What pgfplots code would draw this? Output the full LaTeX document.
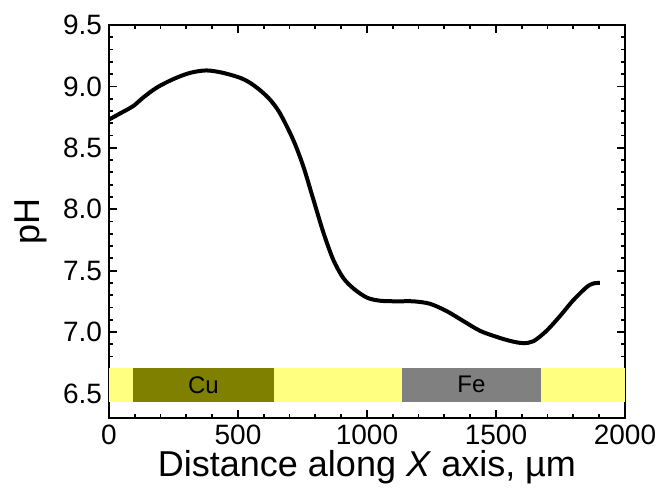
\documentclass[border=0pt]{standalone}
\usepackage{pgfplots}
\pgfplotsset{compat=1.18}
\usepackage{fontspec}
\setmainfont{Liberation Sans}
\begin{document}
\begin{tikzpicture}
\useasboundingbox (-54.5pt,-42.5pt) rectangle (275.5pt,209pt);
\begin{axis}[
  scale only axis, width=258pt, height=196.5pt,
  xmin=0, xmax=2000, ymin=6.3, ymax=9.5,
  xtick={0,500,...,2000}, ytick={6.5,7.0,...,9.5},
  minor x tick num=4, minor y tick num=4,
  tick align=inside, major tick length=4pt, minor tick length=2pt,
  axis line style={line width=1pt}, every tick/.style={line width=0.9pt,black},
  /pgf/number format/assume math mode=true,
  yticklabel style={/pgf/number format/.cd, fixed, fixed zerofill, precision=1},
  xticklabel style={/pgf/number format/.cd, fixed, 1000 sep={}},
  tick label style={font=\fontsize{14}{16}\selectfont},
  xlabel={Distance along \textit{X} axis, µm},
  ylabel={pH},
  label style={font=\fontsize{18}{20}\selectfont},
  xlabel style={yshift=4pt},
  ylabel style={yshift=1pt},
  clip=false,
]
\addplot[fill={rgb,255:red,255;green,255;blue,128}, draw=none] coordinates {(0,6.43) (2000,6.43) (2000,6.71) (0,6.71)} -- cycle;
\addplot[fill={rgb,255:red,128;green,128;blue,0}, draw=none] coordinates {(93,6.43) (640,6.43) (640,6.71) (93,6.71)} -- cycle;
\addplot[fill={rgb,255:red,128;green,128;blue,128}, draw=none] coordinates {(1136,6.43) (1673,6.43) (1673,6.71) (1136,6.71)} -- cycle;
\node[font=\fontsize{12}{14}\selectfont] at (axis cs:366,6.57) {Cu};
\node[font=\fontsize{12}{14}\selectfont] at (axis cs:1405,6.57) {Fe};
\addplot[black, line width=2pt, smooth] coordinates {
(0,8.73) (43,8.78) (94,8.84) (133,8.91) (185,8.99) (250,9.06) (314,9.11) (378,9.13)
(443,9.11) (508,9.07) (546,9.03) (585,8.97) (625,8.89) (663,8.78) (714,8.565) (753,8.35)
(792,8.08) (831,7.81) (869,7.59) (908,7.44) (950,7.35) (1000,7.28) (1050,7.255) (1116,7.25) (1180,7.25)
(1244,7.23) (1309,7.17) (1373,7.09) (1438,7.01) (1503,6.96) (1560,6.925) (1605,6.91)
(1645,6.925) (1696,7.01) (1748,7.13) (1800,7.26) (1851,7.365) (1877,7.395) (1903,7.40)
};
\end{axis}
\end{tikzpicture}
\end{document}
